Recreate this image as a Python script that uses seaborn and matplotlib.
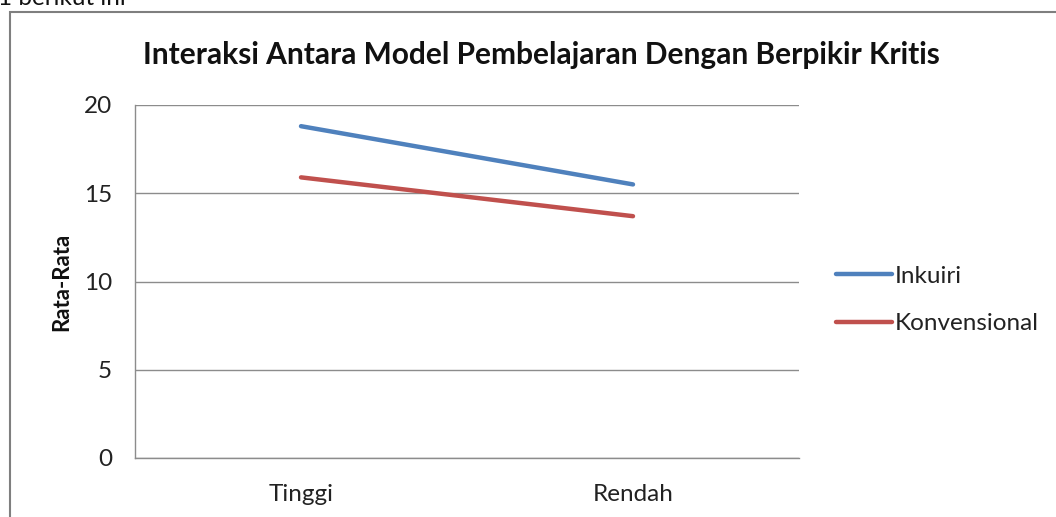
import matplotlib
matplotlib.use("Agg")
import matplotlib.pyplot as plt
import seaborn as sns
import pandas as pd
from matplotlib.patches import Rectangle

categories = ["Tinggi", "Rendah"]
series_names = ["Inkuiri", "Konvensional"]
inkuiri = [18.8, 15.5]
konvensional = [15.9, 13.7]
y_ticks = [0, 5, 10, 15, 20]

df = pd.DataFrame({
    "kategori": categories * 2,
    "x": list(range(len(categories))) * 2,
    "nilai": inkuiri + konvensional,
    "model": [series_names[0]] * 2 + [series_names[1]] * 2,
})

sns.set_theme(style="white")
plt.rcParams['font.family'] = ['Lato', 'DejaVu Sans']

fig = plt.figure(figsize=(10.56, 5.17), dpi=100)
ax = fig.add_axes([135/1056, 1 - 458/517, 664/1056, 353/517])

sns.lineplot(data=df, x="x", y="nilai", hue="model",
             palette={"Inkuiri": "#4F81BD", "Konvensional": "#C0504D"},
             linewidth=3.2, ax=ax, legend=True, solid_capstyle="round")

ax.set_xlim(-0.5, 1.5)
ax.set_ylim(0, 20)
ax.set_yticks(y_ticks)
ax.set_xticks(range(len(categories)))
ax.set_xticklabels(categories)
ax.tick_params(axis="both", length=0, labelsize=17.5, colors="#222222")
ax.tick_params(axis="y", pad=16.5)
ax.tick_params(axis="x", pad=19)
ax.set_xlabel("")
ax.set_ylabel("Rata-Rata", fontsize=16, fontweight="bold", color="#111111")
ax.yaxis.set_label_coords((62 - 135) / 664, 0.5)
ax.yaxis.label.set_va("center")
ax.yaxis.grid(True, color="#8c8c8c", linewidth=1)
for s in ["top", "right"]:
    ax.spines[s].set_visible(False)
for s in ["left", "bottom"]:
    ax.spines[s].set_color("#8c8c8c")
    ax.spines[s].set_linewidth(1)

leg = ax.legend(loc="center left", bbox_to_anchor=(836/1056, 1 - 300/517),
                bbox_transform=fig.transFigure, frameon=False, fontsize=17.5,
                handlelength=2.3, handletextpad=0.1, labelspacing=1.08, borderaxespad=0,
                borderpad=0)
for line in leg.get_lines():
    line.set_linewidth(3.2)
for t in leg.get_texts():
    t.set_color("#222222")

fig.text(541/1056, 1 - 55/517, "Interaksi Antara Model Pembelajaran Dengan Berpikir Kritis",
         ha="center", va="center", fontsize=21.5, fontweight="bold", color="#111111")
fig.text(-2/1056, 1 - 5/517, "1 berikut ini", ha="left", va="baseline", fontsize=17.5, color="#111111")

fig.patches.append(Rectangle((10/1056, -0.05), 1.1, 1 - 12/517 + 0.05, transform=fig.transFigure,
                             fill=False, edgecolor="#7f7f7f", linewidth=1.5, figure=fig))

fig.savefig("out.png", dpi=100)
